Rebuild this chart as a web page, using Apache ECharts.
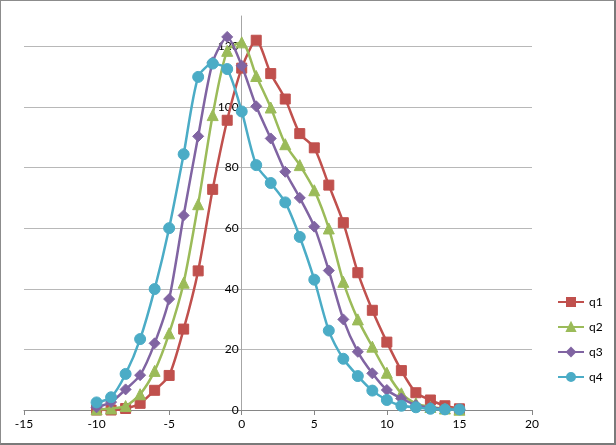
<!DOCTYPE html>
<html>
<head>
<meta charset="utf-8">
<script src="https://cdn.jsdelivr.net/npm/echarts@6/dist/echarts.min.js"></script>
<style>
  html, body { margin: 0; padding: 0; background: #fff; }
  #frame { position: absolute; left: 0; top: 0; width: 616px; height: 445px; box-sizing: border-box;
           border: 1px solid #8c8c8c; border-right: 2px solid #7a7a7a; border-bottom: 2px solid #7a7a7a; }
  #chart { position: absolute; left: 0; top: 0; width: 616px; height: 445px; }
</style>
</head>
<body>
<div id="chart"></div>
<div id="frame"></div>
<script>
const xValues = [-10, -9, -8, -7, -6, -5, -4, -3, -2, -1, 0, 1, 2, 3, 4, 5, 6, 7, 8, 9, 10, 11, 12, 13, 14, 15];
const q1 = [0, 0, 0.5, 2.2, 6.5, 11.4, 26.7, 45.9, 72.8, 95.6, 112.8, 122, 111, 102.6, 91.2, 86.5, 74.2, 61.8, 45.3, 32.9, 22.4, 13, 5.7, 3.3, 1.4, 0.4];
const q2 = [0.2, 0.5, 1.3, 5.2, 12.9, 25.3, 42, 67.9, 97.3, 118.5, 121.3, 110.2, 99.8, 87.7, 80.8, 72.5, 59.9, 42.3, 29.9, 20.9, 12.3, 5.5, 2.2, 1, 0.5, 0.1];
const q3 = [0.9, 2.6, 6.8, 11.5, 22, 36.6, 64.2, 90.3, 114.7, 123.1, 113.6, 100.2, 89.6, 78.6, 70, 60.5, 46, 29.9, 19.2, 12.1, 6.6, 3.8, 1.6, 0.8, 0.3, 0.2];
const q4 = [2.5, 4.2, 11.9, 23.4, 39.9, 60, 84.4, 109.9, 114.3, 112.5, 98.5, 80.8, 74.9, 68.5, 57.1, 43, 26.2, 16.9, 11.2, 6.4, 3.3, 1.4, 0.9, 0.4, 0.2, 0.2];
const seriesNames = ['q1', 'q2', 'q3', 'q4'];
const xTicks = { min: -15, max: 20, step: 5 };
const yTicks = { min: 0, max: 130, step: 20 };

const seriesValues = [q1, q2, q3, q4];
const colors = ['#C0504D', '#9BBB59', '#8064A2', '#4BACC6'];
const symbols = ['rect', 'triangle', 'diamond', 'circle'];
const sizes = [10, 11, 11, 11];

const gridLeft = 24, gridRight = 84;
const plotWidth = 616 - gridLeft - gridRight;
// y axis crosses the x axis at x = 0: shift it there
const yAxisOffset = -plotWidth * (0 - xTicks.min) / (xTicks.max - xTicks.min);

const chart = echarts.init(document.getElementById('chart'), null, { renderer: 'canvas' });
const font = 'Lato, "Liberation Sans", sans-serif';
chart.setOption({
  animation: false,
  backgroundColor: '#fff',
  grid: { left: gridLeft, right: gridRight, top: 16, bottom: 35 },
  legend: {
    orient: 'vertical',
    left: 552,
    top: 291,
    itemWidth: 26,
    itemHeight: 10,
    itemGap: 13,
    textStyle: { fontFamily: font, fontSize: 12, color: '#000' },
    data: seriesNames
  },
  xAxis: {
    type: 'value',
    min: xTicks.min, max: xTicks.max, interval: xTicks.step,
    axisLine: { onZero: true, lineStyle: { color: '#868686', width: 1 } },
    axisTick: { show: true, length: 5, inside: false, lineStyle: { color: '#868686' } },
    axisLabel: { fontFamily: font, fontSize: 12, color: '#000', margin: 8 },
    splitLine: { show: false }
  },
  yAxis: {
    type: 'value',
    position: 'left',
    offset: yAxisOffset,
    min: yTicks.min, max: yTicks.max, interval: yTicks.step,
    axisLine: { show: true, onZero: false, lineStyle: { color: '#a6a6a6', width: 1 } },
    axisTick: { show: false },
    axisLabel: { fontFamily: font, fontSize: 12, color: '#000', margin: 3, showMaxLabel: false },
    splitLine: { show: true, showMaxLine: false, lineStyle: { color: '#b8b8b8', width: 1 } }
  },
  series: seriesNames.map((name, i) => ({
    name: name,
    type: 'line',
    smooth: 0.25,
    data: xValues.map((x, j) => [x, seriesValues[i][j]]),
    symbol: symbols[i],
    symbolSize: sizes[i],
    showAllSymbol: true,
    lineStyle: { color: colors[i], width: 2.5 },
    itemStyle: { color: colors[i], borderColor: colors[i], borderWidth: 1 },
    z: 2 + i
  }))
});
</script>
</body>
</html>
